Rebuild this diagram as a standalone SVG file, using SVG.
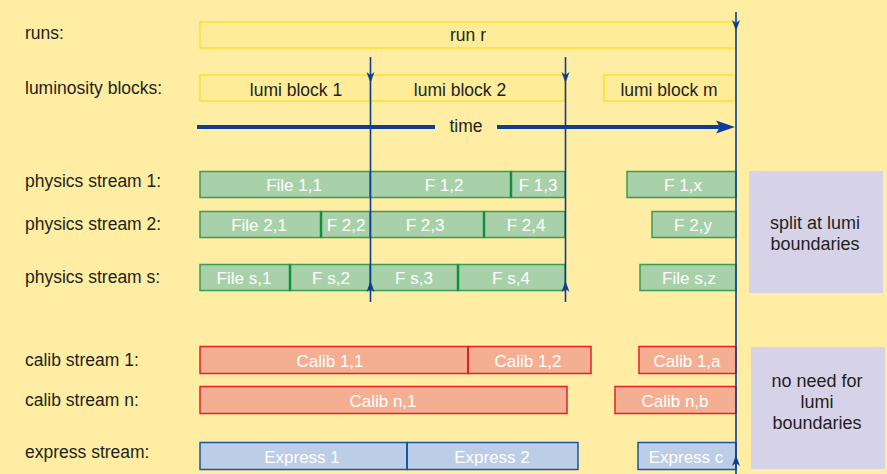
<svg xmlns="http://www.w3.org/2000/svg" width="887" height="474" viewBox="0 0 887 474">
<defs>
<style>
.lbl{font-family:"Liberation Sans",Arial,sans-serif;font-size:17.5px;fill:#231F20}
.dk{font-family:"Liberation Sans",Arial,sans-serif;font-size:17.5px;fill:#231F20;text-anchor:middle}
.wt{font-family:"Liberation Sans",Arial,sans-serif;font-size:17px;fill:#FFFFFF;text-anchor:middle}
.pt{font-family:"Liberation Sans",Arial,sans-serif;font-size:18px;fill:#231F20;text-anchor:middle}
.yb{fill:#FFEC98;stroke:#FFDE2E;stroke-width:1.5}
.gb{fill:#A9D1A9;stroke:#3C9C55;stroke-width:1.5}
.rb{fill:#F4AF93;stroke:#E8202A;stroke-width:1.5}
.bb{fill:#BCCDE8;stroke:#1D56A0;stroke-width:1.5}
.gs{stroke:#11903A;stroke-width:2.5}
.rs{stroke:#D8202A;stroke-width:2}
.bs{stroke:#1D56A0;stroke-width:2}
.pb{fill:#D6D3E9}
.vl{stroke:#0B3F94;stroke-width:1.6;fill:none}
.tl{stroke:#0B3F94;stroke-width:4;fill:none}
.ah{fill:#0B3F94}
</style>
</defs>
<rect width="887" height="474" fill="#FEEDA2"/>

<g id="labels">
<text class="lbl" x="25" y="39">runs:</text>
<text class="lbl" x="25" y="94">luminosity blocks:</text>
<text class="lbl" x="25" y="187">physics stream 1:</text>
<text class="lbl" x="25" y="230">physics stream 2:</text>
<text class="lbl" x="25" y="283">physics stream s:</text>
<text class="lbl" x="25" y="366">calib stream 1:</text>
<text class="lbl" x="25" y="406">calib stream n:</text>
<text class="lbl" x="25" y="458">express stream:</text>
</g>

<g id="run-r"><rect class="yb" x="200" y="22" width="536" height="26"/><text class="dk" x="468" y="41">run r</text></g>
<g id="lumi-block-1"><rect class="yb" x="200" y="75" width="170" height="26"/><text class="dk" x="296" y="96">lumi block 1</text></g>
<g id="lumi-block-2"><rect class="yb" x="370" y="75" width="195" height="26"/><text class="dk" x="460" y="96">lumi block 2</text></g>
<g id="lumi-block-m"><rect class="yb" x="604" y="75" width="132" height="26"/><text class="dk" x="669" y="96">lumi block m</text></g>

<g id="f11"><rect class="gb" x="200" y="171.5" width="170" height="26"/><text class="wt" x="294" y="191">File 1,1</text></g>
<g id="f12"><rect class="gb" x="370" y="171.5" width="141" height="26"/><text class="wt" x="444" y="191">F 1,2</text></g>
<g id="f13"><rect class="gb" x="511" y="171.5" width="54" height="26"/><line class="gs" x1="511" y1="171.5" x2="511" y2="197.5"/><text class="wt" x="538" y="191">F 1,3</text></g>
<g id="f1x"><rect class="gb" x="627" y="171.5" width="109" height="26"/><text class="wt" x="683" y="191">F 1,x</text></g>

<g id="f21"><rect class="gb" x="200" y="211.5" width="121" height="26"/><text class="wt" x="259" y="231">File 2,1</text></g>
<g id="f22"><rect class="gb" x="321" y="211.5" width="49" height="26"/><line class="gs" x1="321" y1="211.5" x2="321" y2="237.5"/><text class="wt" x="346" y="231">F 2,2</text></g>
<g id="f23"><rect class="gb" x="370" y="211.5" width="114" height="26"/><text class="wt" x="425" y="231">F 2,3</text></g>
<g id="f24"><rect class="gb" x="484" y="211.5" width="81" height="26"/><line class="gs" x1="484" y1="211.5" x2="484" y2="237.5"/><text class="wt" x="526" y="231">F 2,4</text></g>
<g id="f2y"><rect class="gb" x="652" y="211.5" width="84" height="26"/><text class="wt" x="693" y="231">F 2,y</text></g>

<g id="fs1"><rect class="gb" x="200" y="264.5" width="90" height="26"/><text class="wt" x="244" y="284">File s,1</text></g>
<g id="fs2"><rect class="gb" x="290" y="264.5" width="80" height="26"/><line class="gs" x1="290" y1="264.5" x2="290" y2="290.5"/><text class="wt" x="331" y="284">F s,2</text></g>
<g id="fs3"><rect class="gb" x="370" y="264.5" width="88" height="26"/><text class="wt" x="414" y="284">F s,3</text></g>
<g id="fs4"><rect class="gb" x="458" y="264.5" width="107" height="26"/><line class="gs" x1="458" y1="264.5" x2="458" y2="290.5"/><text class="wt" x="511" y="284">F s,4</text></g>
<g id="fsz"><rect class="gb" x="640" y="264.5" width="96" height="26"/><text class="wt" x="689" y="284">File s,z</text></g>

<g id="c11"><rect class="rb" x="200" y="346.5" width="268" height="27"/><text class="wt" x="330" y="366.5">Calib 1,1</text></g>
<g id="c12"><rect class="rb" x="468" y="346.5" width="123" height="27"/><line class="rs" x1="468" y1="346.5" x2="468" y2="373.5"/><text class="wt" x="528" y="366.5">Calib 1,2</text></g>
<g id="c1a"><rect class="rb" x="639" y="346.5" width="97" height="27"/><text class="wt" x="687" y="366.5">Calib 1,a</text></g>

<g id="cn1"><rect class="rb" x="200" y="386.5" width="367" height="27"/><text class="wt" x="383" y="406.5">Calib n,1</text></g>
<g id="cnb"><rect class="rb" x="615" y="386.5" width="121" height="27"/><text class="wt" x="675" y="406.5">Calib n,b</text></g>

<g id="e1"><rect class="bb" x="200" y="442.5" width="207" height="27"/><text class="wt" x="302" y="462.5">Express 1</text></g>
<g id="e2"><rect class="bb" x="407" y="442.5" width="171" height="27"/><line class="bs" x1="407" y1="442.5" x2="407" y2="469.5"/><text class="wt" x="492" y="462.5">Express 2</text></g>
<g id="ec"><rect class="bb" x="638" y="442.5" width="98" height="27"/><text class="wt" x="686" y="462.5">Express c</text></g>

<g id="note-split"><rect class="pb" x="749" y="171" width="134" height="122"/><text class="pt" x="815" y="229">split at lumi</text><text class="pt" x="815" y="250">boundaries</text></g>
<g id="note-noneed"><rect class="pb" x="751" y="347" width="134" height="122"/><text class="pt" x="817" y="387">no need for</text><text class="pt" x="817" y="408">lumi</text><text class="pt" x="817" y="429">boundaries</text></g>

<g id="time-axis">
<line class="tl" x1="197" y1="127" x2="435" y2="127"/>
<text class="dk" x="466" y="132">time</text>
<line class="tl" x1="497" y1="127" x2="722" y2="127"/>
<path class="ah" d="M735,127 L716,120.5 L720,127 L716,133.5 Z"/>
</g>

<g id="connectors">
<line class="vl" x1="370.5" y1="57" x2="370.5" y2="302"/>
<path class="ah" d="M370.5,83 L366.5,72 L370.5,75 L374.5,72 Z"/>
<path class="ah" d="M370.5,281 L366.5,292 L370.5,289 L374.5,292 Z"/>
<line class="vl" x1="565.5" y1="57" x2="565.5" y2="302"/>
<path class="ah" d="M565.5,83 L561.5,72 L565.5,75 L569.5,72 Z"/>
<path class="ah" d="M565.5,281 L561.5,292 L565.5,289 L569.5,292 Z"/>
<line class="vl" x1="736" y1="12" x2="736" y2="474"/>
<path class="ah" d="M736,31 L732,20 L736,23 L740,20 Z"/>
<path class="ah" d="M736,455 L732,466 L736,463 L740,466 Z"/>
</g>
</svg>
